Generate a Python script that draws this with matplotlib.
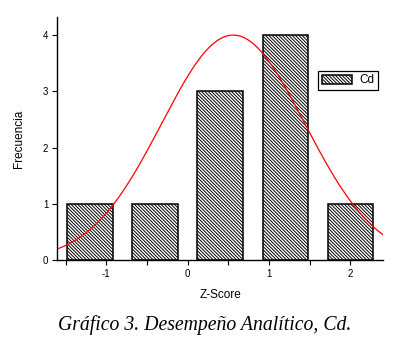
import numpy as np
import matplotlib.pyplot as plt

# histogram bins
bin_centers = [-1.2, -0.4, 0.4, 1.2, 2.0]
counts = [1, 1, 3, 4, 1]
bin_width = 0.8

# fitted normal curve (Origin style): mean, sd, peak height
fit_mean = 0.56
fit_sd = 0.88
fit_peak = 4.0

x_ticks = [-1, 0, 1, 2]
y_ticks = [0, 1, 2, 3, 4]

plt.rcParams['font.family'] = ['Liberation Sans', 'DejaVu Sans']
plt.rcParams['axes.unicode_minus'] = False
plt.rcParams['hatch.linewidth'] = 0.7
plt.rcParams['hatch.color'] = '#333333'

fig = plt.figure(figsize=(4.07, 3.49), dpi=100)
ax = fig.add_axes([0.141, 0.255, 0.800, 0.696])

ax.bar(bin_centers, counts, width=bin_width * 0.7, color='white',
       edgecolor='black', linewidth=1.1, hatch='\\' * 10, label='Cd')

xs = np.linspace(-1.6, 2.4, 400)
ax.plot(xs, fit_peak * np.exp(-0.5 * ((xs - fit_mean) / fit_sd) ** 2),
        color='red', linewidth=0.9)

ax.set_xlim(-1.6, 2.4)
ax.set_ylim(0, 4.32)
ax.set_xticks(x_ticks)
ax.set_xticks(np.arange(-1.5, 2.5, 1.0), minor=True)
ax.set_yticks(y_ticks)
ax.tick_params(axis='both', which='both', direction='out', length=3.5,
               width=0.8, labelsize=7, pad=3)
ax.tick_params(axis='y', which='minor', left=False)
for side in ['top', 'right']:
    ax.spines[side].set_visible(False)
for side in ['left', 'bottom']:
    ax.spines[side].set_linewidth(1.0)

ax.set_xlabel('Z-Score', fontsize=8.5, labelpad=7)
ax.set_ylabel('Frecuencia', fontsize=8.5, labelpad=13)

leg = ax.legend(loc='upper right', bbox_to_anchor=(0.985, 0.779),
                fontsize=8.5, fancybox=False, edgecolor='black',
                framealpha=1, handlelength=2.6, handleheight=0.75,
                borderpad=0.3, handletextpad=0.6, borderaxespad=0)
leg.get_frame().set_linewidth(0.9)

fig.text(0.504, 1 - 325 / 349, 'Gráfico 3. Desempeño Analítico, Cd.',
         ha='center', va='center', fontsize=14.2, style='italic',
         family='Liberation Serif')

plt.savefig('out.png', dpi=100)
